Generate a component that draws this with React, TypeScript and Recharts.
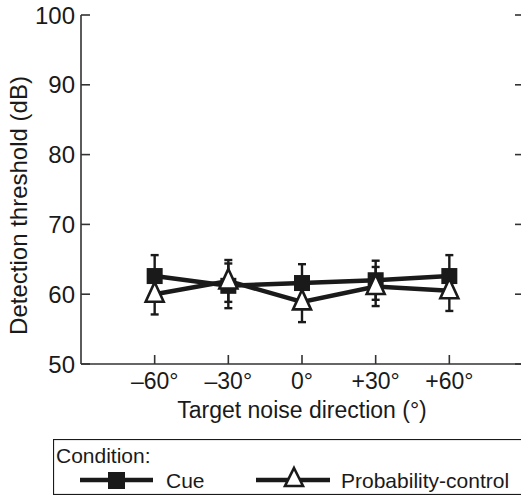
import React from 'react';
import { LineChart, Line, XAxis, YAxis, ErrorBar, Legend } from 'recharts';

// ---- data ----
const directions = [-60, -30, 0, 30, 60];
const tickLabels = ['\u201360\u00b0', '\u201330\u00b0', '0\u00b0', '+30\u00b0', '+60\u00b0'];
const cueValues = [62.6, 61.2, 61.6, 62.0, 62.6];
const cueErrors = [3.0, 3.2, 2.7, 2.8, 3.0];
const probValues = [60.0, 61.9, 58.9, 61.1, 60.5];
const probErrors = [2.9, 3.0, 2.9, 2.8, 2.9];
const yTicks = [50, 60, 70, 80, 90, 100];
const seriesNames = ['Cue', 'Probability-control'];
const legendTitle = 'Condition:';
const xTitle = 'Target noise direction (\u00b0)';
const yTitle = 'Detection threshold (dB)';

const data = directions.map((d, i) => ({
  dir: d,
  cue: cueValues[i],
  cueErr: cueErrors[i],
  prob: probValues[i],
  probErr: probErrors[i],
}));

const INK = '#1a1a1a';
const FONT = '"Liberation Sans", Arial, Helvetica, sans-serif';

const Square = (props: any) => {
  const { cx, cy, index } = props;
  if (cx == null || cy == null) return <g key={`sq-${index}`} />;
  const s = 16;
  return <rect key={`sq-${index}`} x={cx - s / 2} y={cy - s / 2} width={s} height={s} fill={INK} />;
};

const Triangle = (props: any) => {
  const { cx, cy, index } = props;
  if (cx == null || cy == null) return <g key={`tr-${index}`} />;
  const pts = `${cx},${cy - 12} ${cx + 9},${cy + 7.5} ${cx - 9},${cy + 7.5}`;
  return <polygon key={`tr-${index}`} points={pts} fill="#fff" stroke={INK} strokeWidth={2.6} strokeLinejoin="miter" />;
};

const renderLegend = () => (
  <svg width={480} height={56} style={{ display: 'block', fontFamily: FONT }}>
    <rect x={0.5} y={0.5} width={478} height={55} fill="#fff" stroke={INK} strokeWidth={1.2} />
    <text x={3} y={24} fontSize={21} fill={INK}>{legendTitle}</text>
    <line x1={27} y1={41} x2={100} y2={41} stroke={INK} strokeWidth={4.5} />
    <rect x={55} y={33} width={17} height={17} fill={INK} />
    <text x={113} y={49} fontSize={21} fill={INK}>{seriesNames[0]}</text>
    <line x1={203} y1={41} x2={277} y2={41} stroke={INK} strokeWidth={4.5} />
    <polygon points="241,29 250,47 232,47" fill="#fff" stroke={INK} strokeWidth={2.6} />
    <text x={288} y={49} fontSize={21} fill={INK}>{seriesNames[1]}</text>
  </svg>
);

const YLabel = (props: any) => {
  const vb = props.viewBox || { x: 0, y: 0, width: 0, height: 0 };
  const cx = vb.x + 27;
  const cy = vb.y + vb.height / 2 + 16;
  return (
    <text
      x={cx}
      y={cy}
      transform={`rotate(-90 ${cx} ${cy})`}
      textAnchor="middle"
      fontSize={24}
      fill={INK}
      fontFamily={FONT}
    >
      {yTitle}
    </text>
  );
};

const RightTick = (props: any) => {
  const { x, y, index } = props;
  // short inward tick mark on the right frame
  return <line key={`rt-${index}`} x1={x} y1={y} x2={x - 8} y2={y} stroke="#333" strokeWidth={1.6} />;
};

export default function App() {
  return (
    <div style={{ position: 'fixed', left: 0, top: 0, width: 521, height: 497, overflow: 'hidden', background: '#fff' }}>
      <LineChart
        width={530}
        height={497}
        data={data}
        margin={{ top: 15, right: 5, left: 0, bottom: 73 }}
        style={{ fontFamily: FONT }}
      >
        <XAxis
          dataKey="dir"
          type="number"
          domain={[-90, 90]}
          ticks={directions}
          tickFormatter={(v: number) => tickLabels[directions.indexOf(v)] ?? ''}
          height={60}
          tickSize={-9}
          tickMargin={18}
          axisLine={{ stroke: '#333', strokeWidth: 1.6 }}
          tickLine={{ stroke: '#333', strokeWidth: 1.6 }}
          tick={{ fontSize: 23, fill: INK, fontFamily: FONT }}
          label={{ value: xTitle, position: 'insideBottom', offset: 6, fontSize: 23, fill: INK, fontFamily: FONT }}
        />
        <XAxis
          xAxisId="top"
          orientation="top"
          dataKey="dir"
          type="number"
          domain={[-90, 90]}
          height={0}
          tick={false}
          tickLine={false}
          axisLine={{ stroke: '#333', strokeWidth: 1.6 }}
        />
        <YAxis
          domain={[50, 100]}
          ticks={yTicks}
          width={81}
          tickSize={-9}
          tickMargin={15}
          interval={0}
          axisLine={{ stroke: '#333', strokeWidth: 1.6 }}
          tickLine={{ stroke: '#333', strokeWidth: 1.6 }}
          tick={{ fontSize: 24, fill: INK, fontFamily: FONT }}
          label={<YLabel />}
        />
        <YAxis
          yAxisId="right"
          orientation="right"
          domain={[50, 100]}
          ticks={yTicks}
          width={2}
          tickSize={0}
          tickMargin={0}
          interval={0}
          tick={<RightTick />}
          tickLine={false}
          axisLine={{ stroke: '#333', strokeWidth: 1.6 }}
        />
        <Legend
          layout="horizontal"
          verticalAlign="middle"
          align="center"
          content={renderLegend}
          wrapperStyle={{ position: 'absolute', left: 53, top: 439, width: 480, height: 56 }}
        />
        <Line
          name={seriesNames[0]}
          dataKey="cue"
          type="linear"
          stroke={INK}
          strokeWidth={4.5}
          dot={Square}
          activeDot={false}
          isAnimationActive={false}
        >
          <ErrorBar dataKey="cueErr" direction="y" width={4} stroke={INK} strokeWidth={2.4} isAnimationActive={false} />
        </Line>
        <Line
          name={seriesNames[1]}
          yAxisId="right"
          dataKey="prob"
          type="linear"
          stroke={INK}
          strokeWidth={4.5}
          dot={Triangle}
          activeDot={false}
          isAnimationActive={false}
        >
          <ErrorBar dataKey="probErr" direction="y" width={4} stroke={INK} strokeWidth={2.4} isAnimationActive={false} />
        </Line>
      </LineChart>
    </div>
  );
}
